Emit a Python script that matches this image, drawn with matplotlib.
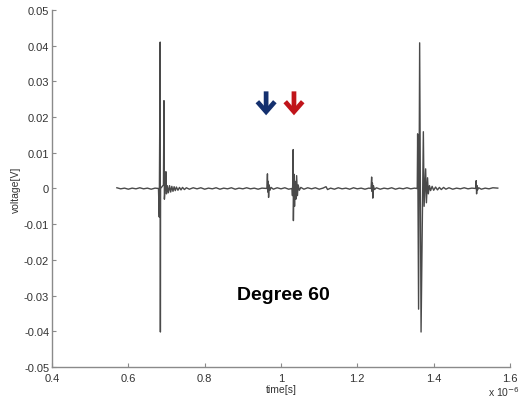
"""Oscilloscope-style trace, 'Degree 60' acquisition."""

import matplotlib
matplotlib.use("Agg")
import matplotlib.pyplot as plt
from matplotlib.patches import FancyArrowPatch

# ── data (time in units of 1e-6 s, voltage in V) ─────────────
time_us = [
    # leading baseline
    0.570, 0.580, 0.590, 0.600, 0.610, 0.620, 0.630, 0.640, 0.650, 0.660, 0.670, 0.679,
    # first burst
    0.681, 0.6835, 0.6840, 0.6845, 0.692, 0.6934, 0.6945, 0.697, 0.6985, 0.700, 0.702,
    # ringing after first burst
    0.705, 0.708, 0.711, 0.714, 0.717, 0.720, 0.723, 0.726, 0.730, 0.734, 0.738, 0.742,
    0.747, 0.752, 0.760, 0.770, 0.780, 0.790, 0.800, 0.810, 0.820, 0.830, 0.840, 0.850,
    0.860, 0.870, 0.880, 0.890, 0.900, 0.910, 0.920, 0.930, 0.940, 0.950, 0.960,
    # small echo (blue arrow)
    0.963, 0.9645, 0.9655, 0.9665, 0.9675, 0.969, 0.971, 0.974, 0.980, 0.990, 1.000,
    1.010, 1.020, 1.029,
    # echo (red arrow)
    1.030, 1.031, 1.032, 1.0325, 1.034, 1.0355, 1.037, 1.039, 1.041, 1.043, 1.045, 1.048,
    1.052, 1.060, 1.070, 1.080, 1.090, 1.100, 1.110, 1.118, 1.122, 1.130, 1.140, 1.150,
    1.160, 1.170, 1.180, 1.190, 1.200, 1.210, 1.220, 1.230, 1.236,
    # small echo
    1.2375, 1.2385, 1.2395, 1.2405, 1.242, 1.245, 1.250, 1.260, 1.270, 1.280, 1.290,
    1.300, 1.310, 1.320, 1.330, 1.340, 1.350, 1.355,
    # second burst
    1.357, 1.358, 1.3605, 1.3633, 1.367, 1.373, 1.375, 1.379, 1.381, 1.384, 1.386,
    1.389, 1.392,
    # ringing after second burst
    1.396, 1.400, 1.405, 1.410, 1.415, 1.420, 1.426, 1.432, 1.440, 1.450, 1.460, 1.470,
    1.480, 1.490, 1.500, 1.510,
    # small echo near the end
    1.5115, 1.5125, 1.5135, 1.515, 1.518, 1.525, 1.535, 1.545, 1.555, 1.568,
]

voltage = [
    # leading baseline
    0.0002, -0.0001, 0.0001, -0.0002, 0.0001, -0.0001, 0.0002, -0.0001, 0.0001, -0.0002, 0.0001, 0.0,
    # first burst
    -0.008, 0.041, -0.0402, 0.0, 0.001, 0.0246, -0.003, 0.001, 0.0047, -0.0015, 0.0008,
    # ringing after first burst
    -0.0012, 0.0008, -0.0010, 0.0006, -0.0008, 0.0005, -0.0006, 0.0004, -0.0005, 0.0003, -0.0004, 0.0003,
    -0.0003, 0.0002, -0.0002, 0.0002, -0.0001, 0.0002, -0.0002, 0.0001, -0.0001, 0.0002, -0.0002, 0.0001,
    -0.0001, 0.0002, -0.0002, 0.0001, -0.0001, 0.0002, -0.0001, 0.0001, -0.0002, 0.0001, 0.0,
    # small echo (blue arrow)
    0.0, 0.0041, -0.001, 0.002, -0.0025, 0.001, -0.0005, 0.0003, -0.0002, 0.0002, -0.0001,
    0.0002, -0.0002, 0.0,
    # echo (red arrow)
    -0.002, 0.003, 0.0109, -0.009, 0.004, -0.005, 0.002, -0.003, 0.0036, -0.002, 0.001, -0.0005,
    0.0003, -0.0002, 0.0002, -0.0001, 0.0002, -0.0002, 0.0001, 0.0005, -0.0003, 0.0001, -0.0002, 0.0002,
    -0.0001, 0.0001, -0.0002, 0.0002, -0.0001, 0.0001, -0.0002, 0.0001, 0.0,
    # small echo
    0.0032, -0.0008, 0.0015, -0.0027, 0.0008, -0.0003, 0.0002, -0.0002, 0.0001, -0.0001, 0.0002,
    -0.0002, 0.0001, -0.0001, 0.0002, -0.0001, 0.0001, 0.0,
    # second burst
    0.0, 0.0153, -0.0338, 0.0408, -0.0402, 0.0159, -0.005, 0.0055, -0.004, 0.003, -0.0015,
    0.0008, -0.0006,
    # ringing after second burst
    0.0006, -0.0005, 0.0004, -0.0004, 0.0003, -0.0003, 0.0003, -0.0002, 0.0002, -0.0002, 0.0001, -0.0001,
    0.0002, -0.0001, 0.0001, 0.0,
    # small echo near the end
    0.0022, -0.0015, 0.0008, -0.0004, 0.0002, -0.0002, 0.0001, -0.0001, 0.0002, 0.0001,
]

x_ticks = [0.4, 0.6, 0.8, 1.0, 1.2, 1.4, 1.6]
x_tick_labels = ["0.4", "0.6", "0.8", "1", "1.2", "1.4", "1.6"]
y_ticks = [-0.05, -0.04, -0.03, -0.02, -0.01, 0, 0.01, 0.02, 0.03, 0.04, 0.05]
y_tick_labels = ["-0.05", "-0.04", "-0.03", "-0.02", "-0.01", "0",
                 "0.01", "0.02", "0.03", "0.04", "0.05"]

# echo markers: x position, arrow top, arrow tip, colour
arrow_marks = [(0.961, 0.0272, 0.0205, "#14306e"), (1.034, 0.0272, 0.0205, "#c0141a")]
label_text = "Degree 60"

AXIS_GREY = "#8a8a8a"
TEXT_GREY = "#333333"

plt.rcParams["font.family"] = ["Liberation Sans", "DejaVu Sans"]

fig = plt.figure(figsize=(5.22, 4.06), dpi=100)
ax = fig.add_axes([0.0996, 0.0936, 0.8774, 0.8794])

ax.plot(time_us, voltage, color="#4a4a4a", linewidth=1.0)

ax.set_xlim(0.4, 1.6)
ax.set_ylim(-0.05, 0.05)
ax.set_xticks(x_ticks)
ax.set_xticklabels(x_tick_labels)
ax.set_yticks(y_ticks)
ax.set_yticklabels(y_tick_labels)

for side in ("top", "right"):
    ax.spines[side].set_visible(False)
for side in ("left", "bottom"):
    ax.spines[side].set_color(AXIS_GREY)
    ax.spines[side].set_linewidth(1.0)

ax.tick_params(direction="in", length=3, width=0.8, color=AXIS_GREY,
               labelsize=8, labelcolor=TEXT_GREY)
ax.tick_params(axis="x", pad=4)
ax.tick_params(axis="y", pad=2)

ax.set_xlabel("time[s]", fontsize=7.5, color=TEXT_GREY, labelpad=1)
ax.set_ylabel("voltage[V]", fontsize=7.5, color=TEXT_GREY, labelpad=2)
fig.text(0.935, 0.022, r"x 10$^{-6}$", fontsize=7.5, color=TEXT_GREY)

for x, y0, y1, col in arrow_marks:
    ax.add_patch(FancyArrowPatch((x, y0), (x, y1),
                                 arrowstyle="->,head_length=0.4,head_width=0.35",
                                 mutation_scale=18, color=col, linewidth=3.4,
                                 shrinkA=0, shrinkB=0, capstyle="butt",
                                 joinstyle="miter"))

ax.text(1.005, -0.0298, label_text, fontsize=14, fontweight="bold",
        ha="center", va="center", color="black")

fig.savefig("out.png", dpi=100, facecolor="white")
plt.close(fig)
